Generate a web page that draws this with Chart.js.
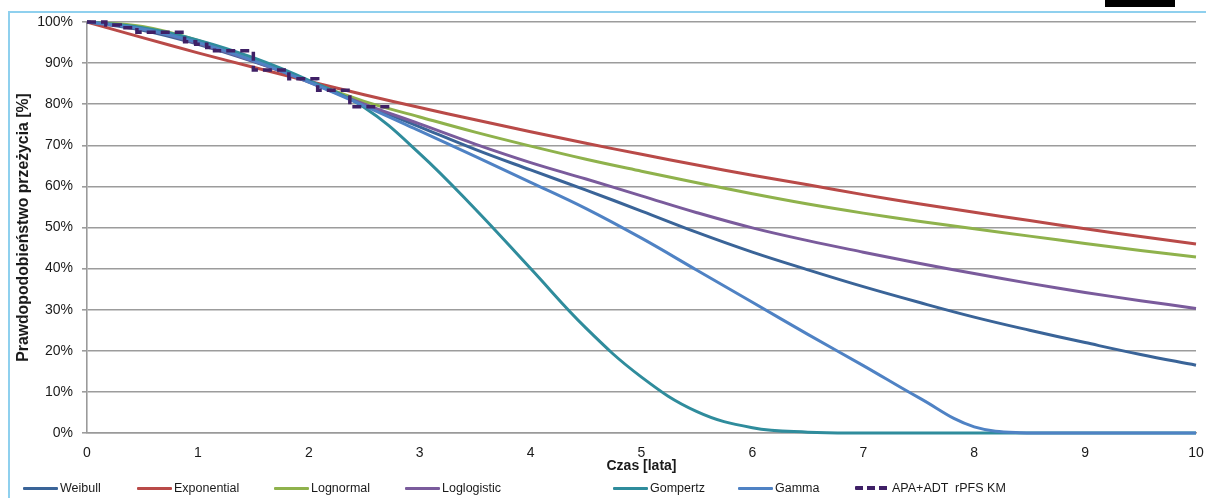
<!DOCTYPE html>
<html>
<head>
<meta charset="utf-8">
<script src="https://cdn.jsdelivr.net/npm/chart.js@4.4.1/dist/chart.umd.min.js"></script>
<style>
  html, body { margin: 0; padding: 0; background: #ffffff; }
  #wrap { position: relative; width: 1206px; height: 498px; overflow: hidden; background: #fff; }
  #frame { position: absolute; left: 8px; top: 11px; width: 1198px; height: 487px;
           border-left: 2px solid #8fd0ee; border-top: 2px solid #8fd0ee; box-sizing: border-box; }
  #blk { position: absolute; left: 1105px; top: 0; width: 70px; height: 7px; background: #000; }
  #c { position: absolute; left: 0; top: 0; }
  .lg { position: absolute; top: 479px; height: 18px; display: flex; align-items: center;
        font-family: "Liberation Sans", Arial, sans-serif; font-size: 12.5px; color: #1a1a1a; white-space: pre; }
  .lg .sw { display: inline-block; width: 35px; height: 3px; margin-right: 2px; border-radius: 1px; }
</style>
</head>
<body>
<div id="wrap">
  <div id="frame"></div>
  <div id="blk"></div>
  <canvas id="c" width="1206" height="498"></canvas>
</div>
<script>
// ---- data (survival, %) ----
const times = [0, 0.5, 1, 1.5, 2, 2.5, 3, 3.5, 4, 4.5, 5, 5.5, 6, 6.5, 7, 7.5, 8, 8.5, 9, 9.5, 10];
const weibull     = [100, 98.0, 94.6, 90.4, 85.6, 80.0, 74.5, 69.0, 64.0, 59.1, 54.0, 48.8, 44.0, 39.7, 35.6, 31.8, 28.2, 25.0, 22.0, 19.1, 16.5];
const exponential = [100, 96.2, 92.5, 89.0, 85.6, 82.3, 79.2, 76.2, 73.3, 70.5, 67.8, 65.2, 62.7, 60.4, 58.0, 55.8, 53.7, 51.7, 49.7, 47.8, 46.0];
const lognormal   = [100, 98.9, 95.5, 90.8, 85.5, 80.7, 76.9, 73.2, 69.8, 66.6, 63.7, 60.9, 58.2, 55.7, 53.5, 51.5, 49.7, 47.9, 46.1, 44.4, 42.8];
const loglogistic = [100, 98.3, 94.8, 90.5, 85.4, 80.0, 75.2, 70.3, 65.8, 61.8, 57.7, 53.6, 49.9, 46.8, 44.0, 41.3, 38.8, 36.4, 34.2, 32.2, 30.3];
const gompertz    = [100, 98.6, 95.6, 91.3, 85.8, 79.2, 68.0, 54.5, 40.0, 25.5, 13.6, 5.2, 1.3, 0.2, 0, 0, 0, 0, 0, 0, 0];
const gamma       = [100, 98.3, 95.0, 90.6, 85.4, 79.6, 73.5, 67.3, 61.0, 54.6, 47.4, 39.6, 31.8, 24.0, 16.4, 8.6, 1.5, 0, 0, 0, 0];
const kmTimes = [0, 0.17, 0.30, 0.45, 0.88, 0.98, 1.08, 1.15, 1.50, 1.82, 2.08, 2.37, 2.76];
const kmSurv  = [100, 99.3, 98.6, 97.5, 95.2, 94.6, 93.8, 93.0, 88.3, 86.2, 83.4, 79.4, 79.4];

const seriesNames = ["Weibull", "Exponential", "Lognormal", "Loglogistic", "Gompertz", "Gamma", "APA+ADT  rPFS KM"];
const seriesColors = ["#3a6498", "#b94a48", "#8fb24c", "#7a5b9c", "#2f8c9c", "#4f82c4", "#3f2066"];
const yTickLabels = ["0%", "10%", "20%", "30%", "40%", "50%", "60%", "70%", "80%", "90%", "100%"];
const xTickLabels = ["0", "1", "2", "3", "4", "5", "6", "7", "8", "9", "10"];

// layout only
const legendLeft = [23, 137, 274, 405, 613, 738, 855];

function pts(xs, ys) { return xs.map((x, i) => ({ x: x, y: ys[i] })); }
const fitted = [weibull, exponential, lognormal, loglogistic, gompertz, gamma];

const datasets = fitted.map((arr, i) => ({
  label: seriesNames[i],
  data: pts(times, arr),
  borderColor: seriesColors[i],
  backgroundColor: seriesColors[i],
  borderWidth: 3,
  pointRadius: 0,
  tension: 0.4,
  fill: false,
  clip: false,
  order: 6 - i
}));
datasets.push({
  label: seriesNames[6],
  data: pts(kmTimes, kmSurv),
  borderColor: seriesColors[6],
  backgroundColor: seriesColors[6],
  borderWidth: 3.5,
  borderDash: [9, 5],
  stepped: true,
  pointRadius: 0,
  fill: false,
  clip: false,
  order: 0
});

const FONT = "'Liberation Sans', Arial, sans-serif";
const TXT = "#1a1a1a";

new Chart(document.getElementById('c'), {
  type: 'line',
  data: { datasets: datasets },
  options: {
    responsive: false,
    animation: false,
    layout: { padding: { left: 0, top: 22, right: 10, bottom: 0 } },
    plugins: { legend: { display: false }, tooltip: { enabled: false } },
    scales: {
      x: {
        type: 'linear', min: 0, max: 10,
        afterFit: s => { s.height = 65; s.paddingLeft = 0; s.paddingRight = 0; },
        ticks: { stepSize: 1, padding: 12, color: TXT, font: { family: FONT, size: 14 },
                 callback: (v) => xTickLabels[Math.round(v)] ?? '' , maxRotation: 0 },
        grid: { display: false, drawTicks: false },
        border: { display: true, color: '#9a9a9a', width: 1.6 },
        title: { display: true, text: 'Czas [lata]', color: TXT,
                 font: { family: FONT, size: 14, weight: 'bold' }, padding: { top: 0, bottom: 23 } }
      },
      y: {
        min: 0, max: 100,
        afterFit: s => { s.width = 87; s.paddingTop = 0; s.paddingBottom = 0; },
        ticks: { stepSize: 10, padding: 9, color: TXT, font: { family: FONT, size: 14 },
                 callback: (v) => yTickLabels[Math.round(v / 10)] ?? '' },
        grid: { color: '#9c9c9c', lineWidth: 1.6, drawTicks: true, tickLength: 5 },
        border: { display: true, color: '#9a9a9a', width: 1.6 },
        title: { display: true, text: 'Prawdopodobieństwo przeżycia [%]', color: TXT,
                 font: { family: FONT, size: 15.8, weight: 'bold' }, padding: { top: 14, bottom: 0 } }
      }
    }
  }
});

// HTML legend built from the series
const wrap = document.getElementById('wrap');
seriesNames.forEach((name, i) => {
  const item = document.createElement('div');
  item.className = 'lg';
  item.style.left = legendLeft[i] + 'px';
  const sw = document.createElement('span');
  sw.className = 'sw';
  if (i === 6) {
    sw.style.height = '4px';
    sw.style.background = 'repeating-linear-gradient(to right, ' + seriesColors[i] + ' 0 8px, transparent 8px 12px)';
  } else {
    sw.style.background = seriesColors[i];
  }
  item.appendChild(sw);
  item.appendChild(document.createTextNode(name));
  wrap.appendChild(item);
});
</script>
</body>
</html>
